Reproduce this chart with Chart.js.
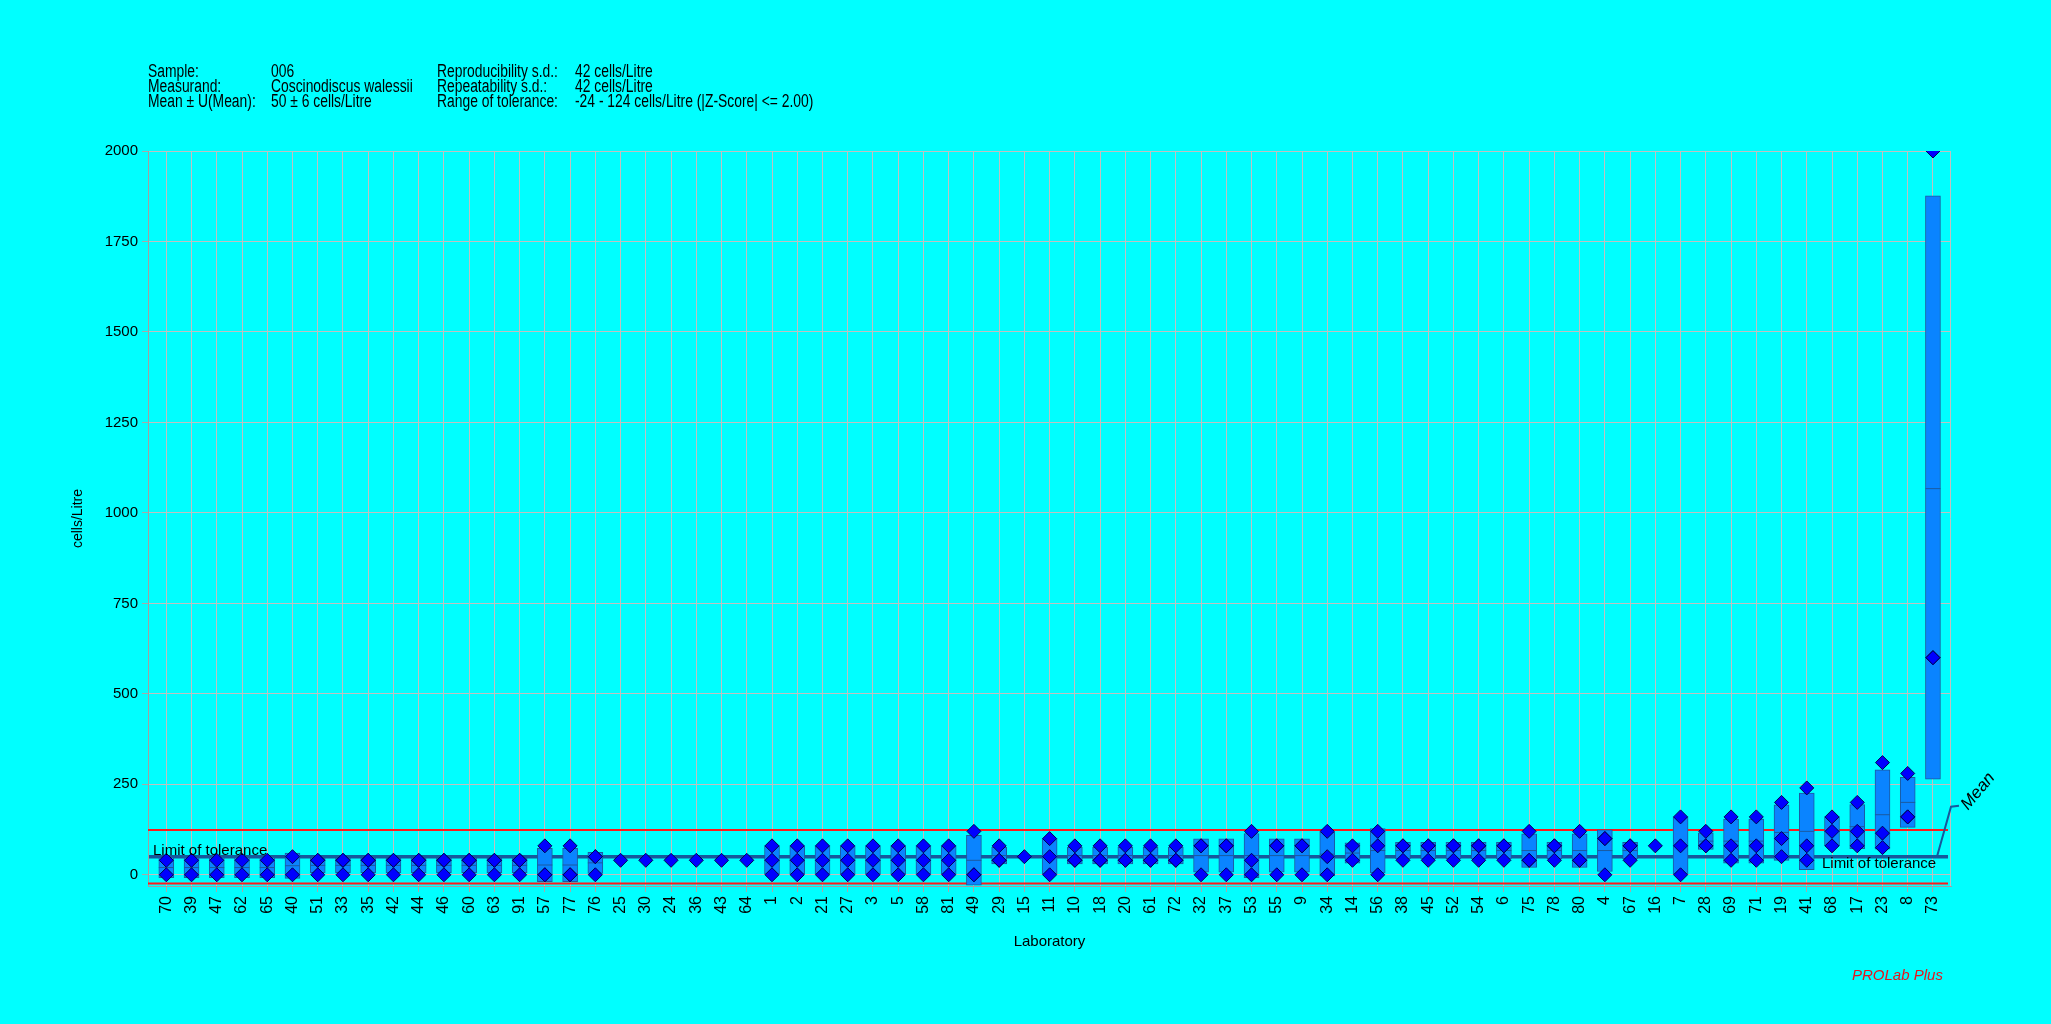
<!DOCTYPE html>
<html><head><meta charset="utf-8">
<script src="https://cdn.jsdelivr.net/npm/chart.js@4.4.0/dist/chart.umd.min.js"></script>
<style>
html,body{margin:0;padding:0;background:#00ffff;}
#wrap{position:relative;width:2051px;height:1024px;overflow:hidden;background:#00ffff;}
#c{position:absolute;left:0;top:0;}
.h{position:absolute;font:18px "Liberation Sans",Arial,sans-serif;color:#000;white-space:nowrap;transform:scaleX(0.77);transform-origin:0 50%;line-height:15px;}
#brand{position:absolute;left:1852px;top:967px;font:italic 15px "Liberation Sans",Arial,sans-serif;line-height:15px;color:#e8141c;white-space:nowrap;}
</style></head>
<body><div id="wrap"><canvas id="c" width="2051" height="1024"></canvas>
<div id="header"></div><div id="brand">PROLab Plus</div></div>
<script>
// ---- data ----
const labs = ["70","39","47","62","65","40","51","33","35","42","44","46","60","63","91","57","77","76","25","30","24","36","43","64","1","2","21","27","3","5","58","81","49","29","15","11","10","18","20","61","72","32","37","53","55","9","34","14","56","38","45","52","54","6","75","78","80","4","67","16","7","28","69","71","19","41","68","17","23","8","73"];
const replicates = [
 [0,40],[0,40],[0,40],[0,40],[0,40],[0,50],[0,40,40],[0,40,40],[0,40,40],[0,40,40],
 [0,40,40],[0,40,40],[0,40,40],[0,40,40],[0,40,40],[0,0,80],[0,0,80],[0,50,50],[40],[40],
 [40],[40],[40],[40],[0,40,80],[0,40,80],[0,40,80],[0,40,80],[0,40,80],[0,40,80],
 [0,40,80],[0,40,80],[0,0,120],[40,40,80],[50],[0,50,100],[40,40,80],[40,40,80],[40,40,80],[40,40,80],
 [40,40,80],[0,80,80],[0,80,80],[0,40,120],[0,80,80],[0,80,80],[0,50,120],[40,80],[0,80,120],[40,80,80],
 [40,80,80],[40,80,80],[40,80,80],[40,80,80],[40,40,120],[40,80,80],[40,40,120],[0,100,100],[40,80,80],[80],
 [0,80,160],[80,80,120],[40,80,160],[40,80,160],[50,100,200],[40,80,240],[80,120,160],[80,120,200],[75,115,310],[160,160,280],
 [600,600,2000]
];
const boxLow  = [-8,-8,-8,-8,-8,-10,6,6,6,6, 6,6,6,6,6,-19,-19,4,null,null, null,null,null,null,0,0,0,0,0,0, 0,0,-29,30,null,0,30,30,30,30, 30,7,7,-8,7,7,-3,32,5,44, 44,44,44,44,20,44,20,9,44,null, 0,70,32,32,40,14,80,72,71,131, 264];
const boxMean = [20,20,20,20,20,25,26,26,26,26, 26,26,26,26,26,27,27,33,null,null, null,null,null,null,40,40,40,40,40,40, 40,40,40,53,null,50,53,53,53,53, 53,53,53,53,53,53,57,60,67,67, 67,67,67,67,67,67,67,67,67,null, 80,93,93,93,117,120,120,133,166,200, 1067];
const boxHigh = [48,48,48,48,48,60,46,46,46,46, 46,46,46,46,46,73,73,62,null,null, null,null,null,null,80,80,80,80,80,80, 80,80,109,76,null,100,76,76,76,76, 76,99,99,114,99,99,117,88,128,90, 90,90,90,90,113,90,113,124,90,null, 160,116,154,154,193,226,160,194,290,269, 1876];
const yTickValues = [0,250,500,750,1000,1250,1500,1750,2000];
const overallMean = 50;
const lowerLimit = -24;
const upperLimit = 124;
const headerCol1 = ["Sample:","Measurand:","Mean \u00b1 U(Mean):"];
const headerCol2 = ["006","Coscinodiscus walessii","50 \u00b1 6 cells/Litre"];
const headerCol3 = ["Reproducibility s.d.:","Repeatability s.d.:","Range of tolerance:"];
const headerCol4 = ["42 cells/Litre","42 cells/Litre","-24 - 124 cells/Litre (|Z-Score| <= 2.00)"];

// ---- header ----
const hdr = document.getElementById('header');
[[headerCol1,148],[headerCol2,271],[headerCol3,437],[headerCol4,575]].forEach(([col,x])=>{
  col.forEach((t,i)=>{
    const s=document.createElement('div'); s.className='h'; s.textContent=t;
    s.style.left=x+'px'; s.style.top=(64+i*15.2)+'px'; hdr.appendChild(s);
  });
});

// ---- datasets ----
const boxData=[], meanData=[], ptData=[];
labs.forEach((l,i)=>{
  if(boxLow[i]!==null){ boxData.push({x:i,y:[boxLow[i],boxHigh[i]]}); meanData.push({x:i,y:boxMean[i]}); }
  replicates[i].forEach(v=>ptData.push({x:i,y:v}));
});

const FONT="'Liberation Sans', Arial, sans-serif";
Chart.defaults.font.family=FONT;

const refLines={
  id:'refLines',
  beforeDatasetsDraw(chart){
    const {ctx,chartArea:a,scales:{x,y}}=chart;
    ctx.save();
    ctx.strokeStyle='#ff1a1a'; ctx.lineWidth=2;
    [upperLimit,lowerLimit].forEach(v=>{const py=y.getPixelForValue(v);ctx.beginPath();ctx.moveTo(a.left,py);ctx.lineTo(a.right-3,py);ctx.stroke();});
    const my=y.getPixelForValue(overallMean);
    ctx.strokeStyle='#16589c'; ctx.lineWidth=3.5;
    ctx.beginPath();ctx.moveTo(a.left+1,my);ctx.lineTo(a.right-3,my);ctx.stroke();
    ctx.restore();
  },
  afterDatasetsDraw(chart){
    const {ctx,chartArea:a,scales:{x,y}}=chart;
    ctx.save();
    ctx.strokeStyle='#c0c0c0'; ctx.lineWidth=1;
    ctx.beginPath();ctx.moveTo(a.right-0.5,a.top);ctx.lineTo(a.right-0.5,a.bottom);ctx.stroke();
    const my=y.getPixelForValue(overallMean);
    const xLast=x.getPixelForValue(labs.length-1);
    ctx.strokeStyle='#16589c'; ctx.lineWidth=2;
    ctx.beginPath();ctx.moveTo(xLast+4,my);ctx.lineTo(a.right,my-50);ctx.lineTo(a.right+8,my-51);ctx.stroke();
    ctx.fillStyle='#000'; ctx.font='15px '+FONT; ctx.textBaseline='alphabetic'; ctx.textAlign='left';
    ctx.fillText('Limit of tolerance',a.left+5,y.getPixelForValue(upperLimit)+25);
    ctx.fillText('Limit of tolerance',xLast-111,my+11);
    ctx.translate(a.right+17,my-46); ctx.rotate(-50*Math.PI/180);
    ctx.font='italic 17px '+FONT; ctx.fillText('Mean',0,0);
    ctx.restore();
  }
};

new Chart(document.getElementById('c'),{
  type:'scatter',
  data:{datasets:[
    {type:'bar',data:boxData,backgroundColor:'#0a84ff',borderColor:'#1b5aa0',borderWidth:1,borderSkipped:false,barThickness:15,grouped:false,order:3},
    {type:'scatter',data:meanData,pointStyle:'line',pointRadius:7.5,borderColor:'#1b5aa0',borderWidth:1,order:2},
    {type:'scatter',data:ptData,pointStyle:'rectRot',pointRadius:7,backgroundColor:'#0000ff',borderColor:'#000050',borderWidth:1,order:1}
  ]},
  options:{
    responsive:false,animation:false,
    layout:{padding:{left:0,top:151,right:100,bottom:0}},
    plugins:{legend:{display:false},tooltip:{enabled:false}},
    scales:{
      x:{type:'linear',min:-0.725,max:70.715,offset:false,
        afterBuildTicks:s=>{s.ticks=labs.map((l,i)=>({value:i}));},
        afterFit:s=>{s.height=138;},
        ticks:{autoSkip:false,minRotation:90,maxRotation:90,callback:v=>labs[v],font:{size:16},color:'#000',padding:4},
        grid:{color:'#c0c0c0',lineWidth:1,tickLength:6,tickColor:'#a8a8a8',offset:false},
        border:{color:'#a0a0a0',width:1},
        title:{display:true,text:'Laboratory',font:{size:15},color:'#000',padding:{top:0,bottom:73}}
      },
      y:{type:'linear',min:-31,max:2000,
        afterBuildTicks:s=>{s.ticks=yTickValues.map(v=>({value:v}));},
        afterFit:s=>{s.width=148;},
        ticks:{callback:v=>String(v),font:{size:15},color:'#000',padding:4},
        grid:{color:'#c0c0c0',lineWidth:1,tickLength:6,tickColor:'#a8a8a8'},
        border:{color:'#a0a0a0',width:1},
        title:{display:true,text:'cells/Litre',font:{size:14},color:'#000',padding:{top:70,bottom:0}}
      }
    }
  },
  plugins:[refLines]
});
</script>
</body></html>
